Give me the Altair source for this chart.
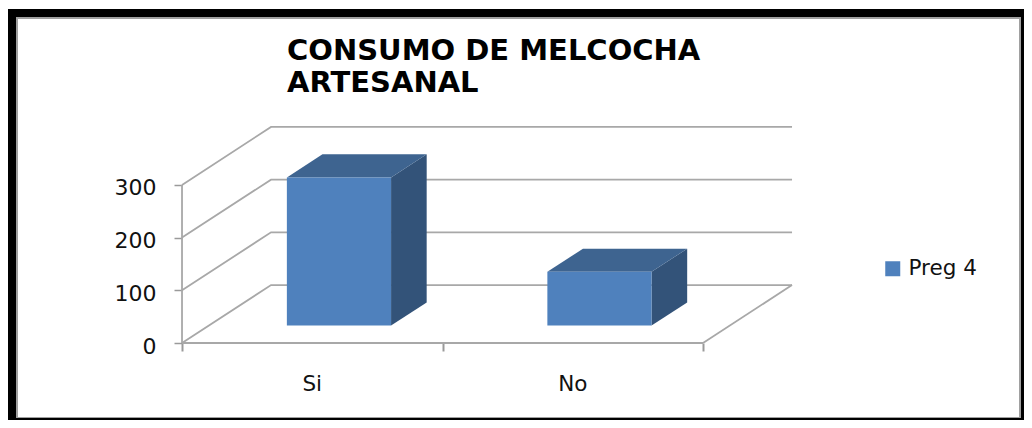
import altair as alt
import pandas as pd

title_lines = ["CONSUMO DE MELCOCHA", "ARTESANAL"]
categories = ["Si", "No"]
values = [281, 102]
series_name = "Preg 4"
y_ticks = [0, 100, 200, 300]

# oblique projection: one unit of depth moves this far in x (category slots) and y (value units)
DEPTH_X = 0.3417
DEPTH_Y = 110
BAR_W = 0.4
BAR_D_FRONT = 0.30
BAR_D_BACK = 0.70
X_DOMAIN = [-0.668, 3.2322]
Y_DOMAIN = [-146.1, 635.7]
W, H = 1016, 412
FONT = "DejaVu Sans"
GRID = "#A8A8A8"


def proj(slot, val, depth):
    return slot + depth * DEPTH_X, val + depth * DEPTH_Y


grid_rows = []
def add_line(name, pts):
    for i, p in enumerate(pts):
        x, y = proj(*p)
        grid_rows.append({"id": name, "i": i, "x": x, "y": y})

n = len(categories)
for v in y_ticks:
    add_line(f"g{v}", [(0, v, 0), (0, v, 1), (n, v, 1)])
add_line("front", [(0, 0, 0), (n, 0, 0)])
add_line("right", [(n, 0, 0), (n, 0, 1)])
add_line("wall", [(0, 0, 0), (0, y_ticks[-1], 0)])
grid_df = pd.DataFrame(grid_rows)

front, top, side = [], [], []
for c, (cat, v) in enumerate(zip(categories, values)):
    x0 = c + 0.5 - BAR_W / 2
    x1 = x0 + BAR_W
    fx0, fy0 = proj(x0, 0, BAR_D_FRONT)
    fx1, fy1 = proj(x1, v, BAR_D_FRONT)
    bx0, by0 = proj(x0, 0, BAR_D_BACK)
    bx1, by1 = proj(x1, v, BAR_D_BACK)
    front.append({"cat": cat, "serie": series_name, "x": fx0, "x2": fx1, "y": fy0, "y2": fy1})
    top += [
        {"cat": cat, "x": fx0, "y": fy1, "y2": fy1},
        {"cat": cat, "x": bx0, "y": by1, "y2": fy1},
        {"cat": cat, "x": fx1, "y": by1, "y2": fy1},
        {"cat": cat, "x": bx1, "y": by1, "y2": by1},
    ]
    side += [
        {"cat": cat, "x": fx1, "y": fy0, "y2": fy1},
        {"cat": cat, "x": bx1, "y": by0, "y2": by1},
    ]

xs = alt.Scale(domain=X_DOMAIN, range=[0, W], nice=False, zero=False)
ys = alt.Scale(domain=Y_DOMAIN, range=[H, 0], nice=False, zero=False)
X = alt.X("x:Q", scale=xs, axis=alt.Axis(
    values=list(range(n + 1)), labels=False, title=None, grid=False, domain=False,
    orient="bottom", offset=-77, tickSize=8, tickColor="#9A9A9A", tickWidth=2))
Y = alt.Y("y:Q", scale=ys, axis=alt.Axis(
    values=y_ticks, title=None, grid=False, domain=False, orient="left", offset=-174,
    tickSize=8, tickColor="#9A9A9A", tickWidth=1.5, labelPadding=18, labelFont=FONT,
    labelFontSize=22, labelColor="#111111", labelOffset=3))

grid = alt.Chart(grid_df).mark_line(color=GRID, strokeWidth=1.8).encode(
    x=X, y=Y, detail="id:N", order="i:Q")

front_layer = alt.Chart(pd.DataFrame(front)).mark_rect().encode(
    x=X, x2="x2:Q", y=Y, y2="y2:Q",
    color=alt.Color("serie:N", scale=alt.Scale(domain=[series_name], range=["#4F81BD"]),
                    legend=alt.Legend(title=None, orient="none", legendX=874, legendY=250,
                                      symbolType="square", symbolSize=225, symbolStrokeWidth=0,
                                      labelFont=FONT, labelFontSize=21.5, labelColor="#111111",
                                      labelOffset=5)))
top_layer = alt.Chart(pd.DataFrame(top)).mark_area(color="#3E6490").encode(
    x=X, y=Y, y2="y2:Q", detail="cat:N")
side_layer = alt.Chart(pd.DataFrame(side)).mark_area(color="#335379").encode(
    x=X, y=Y, y2="y2:Q", detail="cat:N")

labels_df = pd.DataFrame({"x": [i + 0.5 for i in range(n)], "y": [-80] * n, "t": categories})
cat_labels = alt.Chart(labels_df).mark_text(font=FONT, fontSize=21.5, color="#111111").encode(
    x=X, y=Y, text="t:N")

frame_parts = [
    (0, W, 1, 9, "#000000"),
    (0, 8, 1, H, "#000000"),
    (W - 3, W, 1, H, "#000000"),
    (0, W, H - 2, H, "#000000"),
    (8, W - 3, 9, 11, "#A0A0A0"),
    (8, 10, 9, H - 2, "#A0A0A0"),
    (W - 5, W - 3, 9, H - 2, "#A0A0A0"),
    (8, W - 3, H - 3, H - 2, "#A0A0A0"),
]
frame_layers = [
    alt.Chart(pd.DataFrame({"a": [0]})).mark_rect(color=c).encode(
        x=alt.value(a), x2=alt.value(b), y=alt.value(p), y2=alt.value(q))
    for a, b, p, q, c in frame_parts
]

chart = alt.layer(
    *frame_layers, grid, side_layer, top_layer, front_layer, cat_labels
).properties(
    width=W, height=H, padding=0, background="white",
    autosize=alt.AutoSizeParams(type="none"),
    title=alt.TitleParams(text=title_lines, anchor="start", frame="group", dx=279, dy=90,
                          offset=0, baseline="top", font=FONT, fontWeight="bold",
                          fontSize=29, lineHeight=32, color="#000000"),
).configure_view(stroke=None)

chart.save("out.html", embed_options={"renderer": "svg", "actions": False})
